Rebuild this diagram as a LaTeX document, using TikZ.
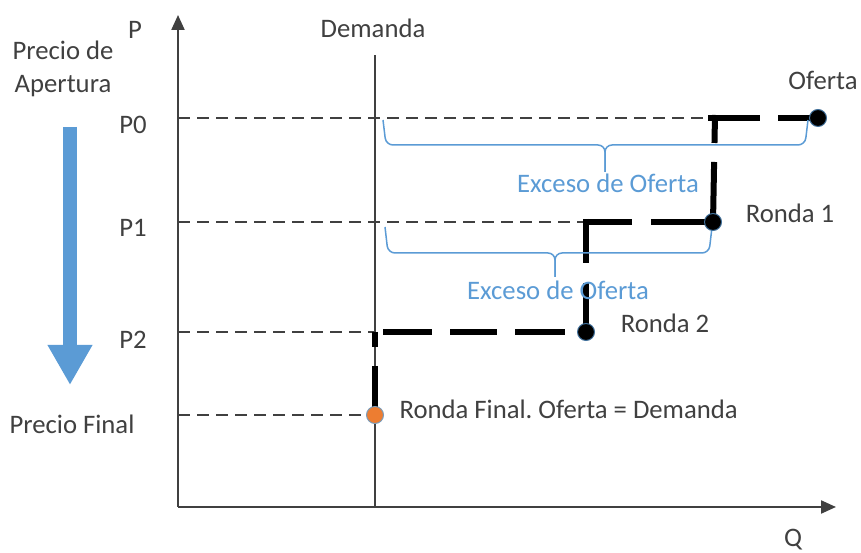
\documentclass[tikz,border=0pt]{standalone}
\usepackage{fontspec}
\setmainfont{Carlito}
\usetikzlibrary{arrows.meta}
\definecolor{txt}{HTML}{404040}
\definecolor{blu}{HTML}{5B9BD5}
\definecolor{org}{HTML}{ED7D31}
\definecolor{ring}{HTML}{41719C}
\frenchspacing
\begin{document}
\begin{tikzpicture}[x=1pt,y=1pt,
  font=\fontsize{26.7}{32}\selectfont,
  every node/.style={text=txt},
  axis/.style={line width=2.2pt, draw=txt, -{Triangle[length=15pt,width=13pt]}},
  guide/.style={line width=1.5pt, draw=txt, dash pattern=on 12pt off 7pt},
  stair/.style={line width=6pt, draw=black},
  bracepath/.style={line width=1.5pt, draw=blu, rounded corners=7pt},
  dot/.style={circle, fill=black, draw=ring, line width=1pt, minimum size=17pt, inner sep=0pt},
  odot/.style={circle, fill=org, draw=ring!70, line width=1pt, minimum size=17pt, inner sep=0pt},
  bluetxt/.style={text=blu}
]
\useasboundingbox (0,0) rectangle (861,553);
% key coordinates
\coordinate (O) at (178,46);
\coordinate (Ytop) at (178,538);
\coordinate (Xend) at (836,46);
\coordinate (Dtop) at (375,498);
\coordinate (Dbot) at (375,46);
\coordinate (A0) at (178,435);
\coordinate (A1) at (178,331);
\coordinate (A2) at (178,221);
\coordinate (A3) at (178,138);
\coordinate (cOf) at (818,435);
\coordinate (c0) at (715,435);
\coordinate (cR1) at (713,331);
\coordinate (c1) at (586,331);
\coordinate (cR2) at (586,221);
\coordinate (c2) at (375,221);
\coordinate (cF) at (375,138);
% staircase starting points
\coordinate (h0) at (708,435);
\coordinate (v0) at (715,438);
\coordinate (h1) at (583,331);
\coordinate (v1) at (586,334);
\coordinate (h2) at (383,221);
% axes
\draw[axis] (O) -- (Ytop);
\draw[axis] (O) -- (Xend);
% demand
\draw[line width=1.6pt, draw=txt] (Dbot) -- (Dtop);
% guides
\draw[guide] (A0) -- (c0);
\draw[guide] (A1) -- (c1);
\draw[guide] (A2) -- (c2);
\draw[guide] (A3) -- (cF);
% staircase
\draw[stair, dash pattern=on 52pt off 18pt on 200pt] (h0) -- (cOf);
\draw[stair, dash pattern=on 28pt off 19pt on 200pt] (v0) -- (cR1);
\draw[stair, dash pattern=on 49pt off 19pt on 200pt] (h1) -- (cR1);
\draw[stair, dash pattern=on 44pt off 20pt on 200pt] (v1) -- (cR2);
\draw[stair, dash pattern=on 49pt off 18pt on 47pt off 18pt on 50pt off 60pt] (h2) -- (cR2);
\draw[stair, dash pattern=on 15pt off 19pt on 200pt] (c2) -- (cF);
% braces
\draw[bracepath] (383,433) -- (386,408) -- (605,408) -- (605,381);
\draw[bracepath] (808,433) -- (805,408) -- (605,408) -- (605,381);
\draw[bracepath] (385,326) -- (388,300) -- (555,300) -- (555,276);
\draw[bracepath] (712,326) -- (709,300) -- (555,300) -- (555,276);
% dots
\node[dot] (of) at (cOf) {};
\node[dot] (r1) at (cR1) {};
\node[dot] (r2) at (cR2) {};
\node[odot] (fin) at (cF) {};
% blue arrow
\coordinate (bA) at (70,426);
\coordinate (bB) at (70,168);
\draw[line width=14pt, draw=blu, -{Triangle[length=40pt,width=42pt]}] (bA) -- (bB);
% labels
\node (p) at (135,523) {P};
\node[inner sep=0pt] (q) at (793,13) {Q};
\node (dem) at (373,525) {Demanda};
\node (lp0) at (133,428) {P0};
\node (lp1) at (133,325) {P1};
\node (lp2) at (133,213) {P2};
\node (pa1) at (63,503) {Precio de};
\node (pa2) at (63,467) {Apertura};
\node (pf) at (72,129) {Precio Final};
\node (ofl) at (823,473) {Oferta};
\node (r1l) at (790,340) {Ronda 1};
\node (r2l) at (665,230) {Ronda 2};
\node[anchor=west] (rfl) at (396,144) {Ronda Final. Oferta = Demanda};
\node[bluetxt] (ex1) at (608,370) {Exceso de Oferta};
\node[bluetxt] (ex2) at (558,263) {Exceso de Oferta};
\end{tikzpicture}
\end{document}
